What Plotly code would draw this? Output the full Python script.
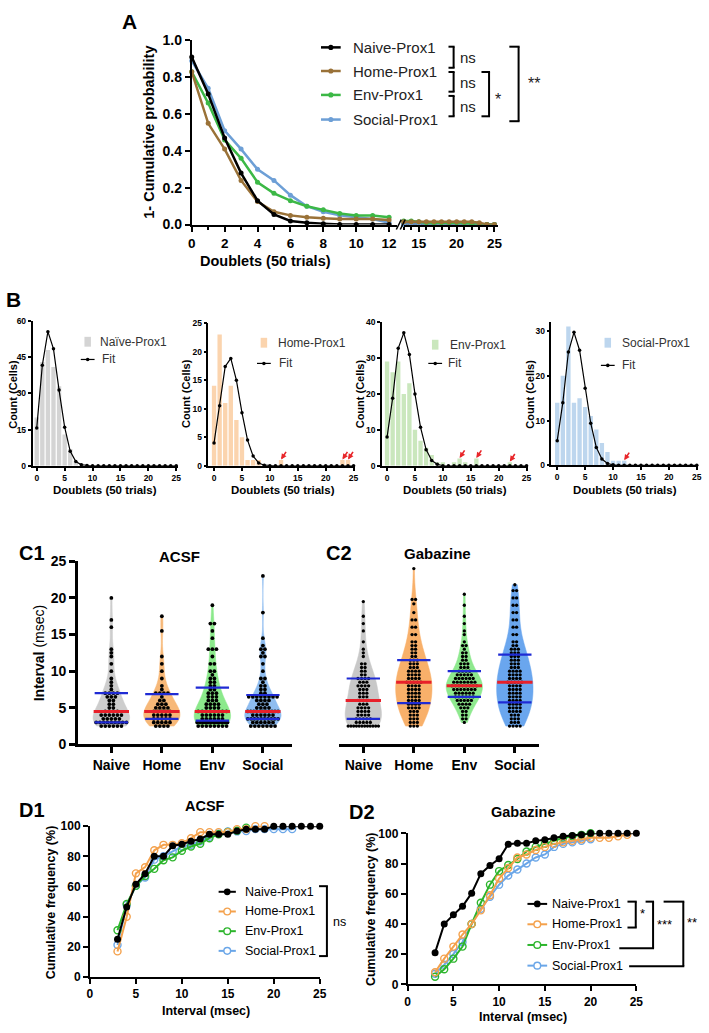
import numpy as np
import plotly.graph_objects as go

W, H = 709, 1033
FONT = "Arial, 'Liberation Sans', Helvetica, sans-serif"


def fx(px):
    return px / W


def fy(py):
    return 1 - py / H


# ====================== DATA ======================
legend_names = ["Naive-Prox1", "Home-Prox1", "Env-Prox1", "Social-Prox1"]
cat_labels = ["Naive", "Home", "Env", "Social"]
cat_pos = [1, 2, 3, 4]

# ---- Panel A : 1 - cumulative probability ----
a_x_left = [0, 1, 2, 3, 4, 5, 6, 7, 8, 9, 10, 11, 12]
a_x_right = [13, 14, 15, 16, 17, 18, 19, 20, 21, 22, 23, 24, 25]
a_naive_left = [0.91, 0.71, 0.47, 0.28, 0.13, 0.055, 0.02, 0.01, 0.005, 0.0, 0.0, 0.0, 0.0]
a_home_left = [0.83, 0.55, 0.41, 0.24, 0.125, 0.07, 0.05, 0.04, 0.035, 0.03, 0.03, 0.03, 0.025]
a_env_left = [0.83, 0.66, 0.46, 0.36, 0.23, 0.17, 0.13, 0.10, 0.08, 0.06, 0.05, 0.05, 0.04]
a_social_left = [0.89, 0.74, 0.51, 0.41, 0.30, 0.24, 0.16, 0.10, 0.07, 0.05, 0.04, 0.03, 0.01]
a_naive_right = [0, 0, 0, 0, 0, 0, 0, 0, 0, 0, 0, 0, 0]
a_home_right = [0.015, 0.015, 0.015, 0.015, 0.015, 0.015, 0.015, 0.015, 0.015, 0.015, 0.01, 0.0, 0.0]
a_env_right = [0.02, 0.02, 0.015, 0.01, 0.01, 0.01, 0.01, 0.01, 0.01, 0.0, 0.0, 0.0, 0.0]
a_social_right = [0, 0, 0, 0, 0, 0, 0, 0, 0, 0, 0, 0, 0]
a_ticks_left = [0, 2, 4, 6, 8, 10, 12]
a_ticks_right = [15, 20, 25]
a_yticks = [0, 0.2, 0.4, 0.6, 0.8, 1.0]

# ---- Panel B : histograms of doublets with fits ----
b_doublets = [0, 1, 2, 3, 4, 5, 6, 7, 8, 9, 10, 11, 12, 13, 14, 15, 16, 17, 18, 19, 20, 21, 22, 23, 24, 25]
b_naive_counts = [20, 43, 48, 41, 33, 13, 7, 2, 1, 0, 0, 0, 0, 0, 0, 0, 0, 0, 0, 0, 0, 0, 0, 0, 0, 0]
b_home_counts = [14, 23, 11, 14, 8, 5, 1, 1, 1, 0, 0, 0, 1, 0, 0, 0, 0, 0, 0, 0, 0, 0, 0, 1, 1, 0]
b_env_counts = [29, 26, 29, 20, 23, 10, 7, 5, 3, 1, 1, 0, 1, 2, 1, 0, 2, 0, 0, 0, 0, 0, 1, 0, 0, 0]
b_social_counts = [14, 20, 31, 14, 15, 13, 11, 8, 5, 3, 1, 1, 1, 0, 0, 0, 0, 0, 0, 0, 0, 0, 0, 0, 0, 0]
b_naive_fit = [15.7, 41.7, 55.6, 48.5, 31.4, 16.0, 6.0, 1.8, 0.4, 0.1, 0, 0, 0, 0, 0, 0, 0, 0, 0, 0, 0, 0, 0, 0, 0, 0]
b_home_fit = [4.0, 10.5, 17.4, 18.8, 15.0, 9.3, 4.5, 1.7, 0.5, 0.1, 0, 0, 0, 0, 0, 0, 0, 0, 0, 0, 0, 0, 0, 0, 0, 0]
b_env_fit = [8.0, 18.8, 32.7, 37.0, 31.0, 20.0, 10.7, 4.5, 1.5, 0.4, 0, 0, 0, 0, 0, 0, 0, 0, 0, 0, 0, 0, 0, 0, 0, 0]
b_social_fit = [5.5, 14.0, 25.3, 29.7, 25.7, 17.2, 9.4, 4.0, 1.4, 0.4, 0.1, 0, 0, 0, 0, 0, 0, 0, 0, 0, 0, 0, 0, 0, 0, 0]
b_home_arrows = [12, 23, 24]
b_env_arrows = [13, 16, 22]
b_social_arrows = [12]
b_naive_yticks = [0, 15, 30, 45, 60]
b_home_yticks = [0, 5, 10, 15, 20, 25]
b_env_yticks = [0, 10, 20, 30, 40]
b_social_yticks = [0, 10, 20, 30]
b_xticks = [0, 5, 10, 15, 20, 25]

# ---- Panel C : intervals (value rows and number of cells per row) ----
c1_naive_vals = [2.5, 3, 3.5, 4, 4.5, 5, 5.5, 6, 6.5, 7, 7.5, 8, 8.5, 9, 10, 11, 12, 12.5, 13, 16, 17, 20]
c1_naive_cnts = [6, 9, 5, 6, 4, 2, 2, 2, 3, 4, 1, 1, 1, 1, 1, 1, 1, 1, 1, 1, 1, 1]
c1_home_vals = [2.5, 3, 3.5, 4, 4.5, 5, 5.5, 6, 6.5, 7, 7.5, 8, 9, 10, 11, 12, 15.5, 17.5]
c1_home_cnts = [4, 5, 5, 5, 5, 4, 3, 2, 1, 4, 1, 1, 1, 1, 1, 1, 1, 1]
c1_env_vals = [2.5, 3, 3.5, 4, 4.5, 5, 5.5, 6, 6.5, 7, 7.5, 8, 8.5, 9, 9.5, 10, 11, 12, 13, 14.5, 15.5, 16.5, 19]
c1_env_cnts = [8, 12, 6, 6, 8, 4, 4, 3, 3, 3, 2, 2, 2, 2, 1, 2, 2, 1, 3, 1, 1, 2, 1]
c1_social_vals = [2.5, 3, 3.5, 4, 4.5, 5, 5.5, 6, 6.5, 7, 7.5, 8, 8.5, 9, 10, 11, 12, 12.5, 13, 13.5, 14.5, 18, 23]
c1_social_cnts = [7, 6, 10, 6, 11, 4, 3, 4, 8, 2, 2, 2, 1, 2, 1, 1, 2, 1, 2, 1, 1, 1, 1]

c2_naive_vals = [2.5, 3, 3.5, 4, 4.5, 5, 5.5, 6, 6.5, 7, 7.5, 8, 8.5, 9, 9.5, 10, 10.5, 11, 12, 12.5, 13, 14, 15.5, 16.5, 17.5, 19.5]
c2_naive_cnts = [12, 5, 5, 4, 4, 4, 3, 4, 3, 3, 3, 4, 3, 4, 2, 2, 2, 2, 1, 1, 1, 1, 1, 1, 1, 1]
c2_home_vals = [2.5, 3, 3.5, 4, 4.5, 5, 5.5, 6, 6.5, 7, 7.5, 8, 8.5, 9, 9.5, 10, 10.5, 11, 11.5, 12, 12.5, 13, 13.5, 14, 15, 16, 17, 18, 19.2, 19.8, 24]
c2_home_cnts = [3, 3, 3, 3, 3, 4, 4, 4, 4, 4, 4, 4, 5, 4, 4, 4, 3, 3, 3, 2, 2, 2, 2, 2, 2, 2, 2, 1, 1, 2, 1]
c2_env_vals = [3, 3.5, 4, 4.5, 5, 5.5, 6, 6.5, 7, 7.5, 8, 8.5, 9, 9.5, 10, 10.5, 11, 11.5, 12, 12.5, 13, 13.5, 14, 15, 15.5, 16.5, 17.5, 19, 20.5]
c2_env_cnts = [1, 2, 2, 2, 3, 4, 5, 6, 6, 7, 8, 7, 6, 5, 4, 3, 3, 2, 2, 2, 1, 2, 1, 1, 1, 1, 1, 1, 1]
c2_social_vals = [2.5, 3, 3.5, 4, 4.5, 5, 5.5, 6, 6.5, 7, 7.5, 8, 8.5, 9, 9.5, 10, 10.5, 11, 11.5, 12, 12.5, 13, 13.5, 14, 15, 16, 17, 18, 19, 20, 21, 21.8]
c2_social_cnts = [4, 3, 3, 3, 4, 4, 4, 4, 4, 4, 4, 4, 5, 4, 4, 4, 3, 3, 3, 3, 3, 3, 2, 2, 2, 2, 2, 2, 2, 2, 2, 1]
c_yticks = [0, 5, 10, 15, 20, 25]

# ---- Panel D : cumulative frequency (%) ----
d1_naive_x = [3, 4, 5, 6, 7, 8, 9, 10, 11, 12, 13, 14, 15, 16, 17, 18, 19, 20, 21, 22, 23, 24, 25]
d1_naive_y = [25, 46.5, 61.5, 68.5, 80, 80, 87, 88, 90, 91.5, 94.6, 94.6, 94.6, 96.7, 98, 98, 98, 100, 100, 100, 100, 100, 100]
d1_home_x = [3, 4, 5, 6, 7, 8, 9, 10, 11, 12, 13, 14, 15, 16, 17, 18, 19]
d1_home_y = [17, 40, 68.7, 72.8, 84, 87.6, 87.6, 88.7, 92, 96, 96, 96, 96, 98, 98, 100, 100]
d1_env_x = [3, 4, 5, 6, 7, 8, 9, 10, 11, 12, 13, 14, 15, 16, 17]
d1_env_y = [31, 48.5, 60.4, 67, 71.7, 77.4, 79.3, 83.7, 86.5, 88.3, 92, 94.6, 96.2, 97, 99]
d1_social_x = [3, 4, 5, 6, 7, 8, 9, 10, 11, 12, 13, 14, 15, 16, 17, 18, 19, 20, 21, 22]
d1_social_y = [21.3, 47.8, 60.5, 66, 77.8, 80, 83.2, 86.5, 87.6, 90, 93, 95, 96.5, 96.5, 96.7, 98, 98, 98, 98, 98]

d2_naive_x = [3, 4, 5, 6, 7, 8, 9, 10, 11, 12, 13, 14, 15, 16, 17, 18, 19, 20, 21, 22, 23, 24, 25]
d2_naive_y = [21, 40, 46, 51.7, 60.4, 73.3, 78.7, 83.2, 92.8, 93.5, 93.5, 95, 95.7, 97, 98, 98.5, 99, 100, 100, 100, 100, 100, 100]
d2_home_x = [3, 4, 5, 6, 7, 8, 9, 10, 11, 12, 13, 14, 15, 16, 17, 18, 19, 20, 21, 22, 23, 24]
d2_home_y = [8, 17, 25, 33, 40, 49, 59, 70, 77, 84, 86, 89, 91, 93, 94, 95, 96, 97, 97, 97, 98, 99]
d2_env_x = [3, 4, 5, 6, 7, 8, 9, 10, 11, 12, 13, 14, 15, 16, 17, 18, 19, 20]
d2_env_y = [5, 10, 17, 25, 40, 54, 66, 75, 79, 83, 88, 91, 93, 95, 97, 98, 99, 100]
d2_social_x = [3, 4, 5, 6, 7, 8, 9, 10, 11, 12, 13, 14, 15, 16, 17, 18, 19, 20]
d2_social_y = [7, 13, 20, 28, 40, 50, 58, 66, 72, 76, 80, 84, 86, 91, 93, 94, 95, 96]
d_xticks = [0, 5, 10, 15, 20, 25]
d_yticks = [0, 20, 40, 60, 80, 100]

# ====================== STYLE ======================
A_COLORS = ["#000000", "#9a7238", "#3cb846", "#6d9fd6"]
B_COLORS = ["#d4d4d4", "#fbd4ae", "#cae7bd", "#bdd6ee"]
C1_COLORS = ["#cdcdcd", "#f7b878", "#8be98b", "#8fbdf0"]
C2_COLORS = ["#c8c8c8", "#f8b06a", "#8ee98e", "#6aa6ee"]
D_COLORS = ["#000000", "#f4a14c", "#2cb52c", "#6aa6e8"]

fig = go.Figure()
shapes = []
annotations = []


def line_px(x0, y0, x1, y1, color="black", width=2):
    shapes.append(dict(type="line", xref="paper", yref="paper", x0=fx(x0), y0=fy(y0),
                       x1=fx(x1), y1=fy(y1), line=dict(color=color, width=width)))


def circle_px(cx, cy, r, color, fill=True, width=1.5):
    shapes.append(dict(type="circle", xref="paper", yref="paper",
                       x0=fx(cx - r), x1=fx(cx + r), y0=fy(cy + r), y1=fy(cy - r),
                       line=dict(color=color, width=(0 if fill else width)),
                       fillcolor=(color if fill else "white")))


def rect_px(x0, y0, x1, y1, color):
    shapes.append(dict(type="rect", xref="paper", yref="paper", x0=fx(x0), x1=fx(x1),
                       y0=fy(y1), y1=fy(y0), line=dict(width=0), fillcolor=color))


def text_px(x, y, s, size, weight="bold", xanchor="center", yanchor="middle", angle=0, color="black"):
    annotations.append(dict(x=fx(x), y=fy(y), xref="paper", yref="paper", text=s, showarrow=False,
                            font=dict(family=FONT, size=size, color=color, weight=weight),
                            xanchor=xanchor, yanchor=yanchor, textangle=angle, borderpad=0))


def axis(dom_px, rng, horizontal, lw, fs, ticklen=5, **kw):
    if horizontal:
        domain = [fx(dom_px[0]), fx(dom_px[1])]
    else:
        domain = [fy(dom_px[1]), fy(dom_px[0])]
    d = dict(domain=domain, range=list(rng), showline=True, linecolor="black", linewidth=lw,
             ticks="outside", ticklen=ticklen, tickwidth=lw, tickcolor="black", showgrid=False,
             zeroline=False, fixedrange=True, type="linear",
             tickfont=dict(family=FONT, size=fs, color="black", weight="bold"))
    d.update(kw)
    return d


layout = {}

# ====================== PANEL A ======================
a_left = [a_naive_left, a_home_left, a_env_left, a_social_left]
a_right = [a_naive_right, a_home_right, a_env_right, a_social_right]
for i in [3, 2, 1, 0]:
    fig.add_trace(go.Scatter(x=a_x_left, y=a_left[i], mode="lines+markers", xaxis="x", yaxis="y",
                             line=dict(color=A_COLORS[i], width=2.5), marker=dict(size=5, color=A_COLORS[i]),
                             cliponaxis=False, showlegend=False))
for i in [0, 3, 2, 1]:
    fig.add_trace(go.Scatter(x=a_x_right, y=a_right[i], mode="lines+markers", xaxis="x2", yaxis="y",
                             line=dict(color=A_COLORS[i], width=2.5), marker=dict(size=5, color=A_COLORS[i]),
                             cliponaxis=False, showlegend=False))

layout["xaxis"] = axis((190.7, 399.5), (0, 12.5), True, 2, 13.5, ticklen=5, anchor="y",
                       tickmode="array", tickvals=a_ticks_left,
                       minor=dict(tickmode="linear", tick0=0, dtick=1, ticks="outside", ticklen=3,
                                  tickwidth=1.5, tickcolor="black"))
layout["xaxis2"] = axis((406, 502), (13, 25.5), True, 2, 13.5, ticklen=5, anchor="y",
                        tickmode="array", tickvals=a_ticks_right,
                        minor=dict(tickmode="linear", tick0=0, dtick=1, ticks="outside", ticklen=3,
                                   tickwidth=1.5, tickcolor="black"))
layout["yaxis"] = axis((33, 220), (0, 1.0), False, 2, 14, ticklen=5, anchor="x",
                       tickmode="array", tickvals=a_yticks, tickformat=".1f")
# axis break marks
line_px(398.5, 225, 403.5, 215, width=1.5)
line_px(402.5, 225, 407.5, 215, width=1.5)

text_px(127, 14, "A", 21)
text_px(147, 126, "1- Cumulative probability", 14.5, angle=-90)
text_px(266, 257, "Doublets (50 trials)", 14.5)

a_leg_y = [40, 64, 88.3, 113.3]
for i in range(4):
    line_px(322, a_leg_y[i], 342, a_leg_y[i], color=A_COLORS[i], width=2.5)
    circle_px(332, a_leg_y[i], 2.6, A_COLORS[i])
    text_px(353, a_leg_y[i], legend_names[i], 15, weight="normal", xanchor="left", color="#222")


def bracket(xv, y0, y1, xl_top, xl_bot, width=2):
    line_px(xv, y0, xv, y1, width=width)
    line_px(xl_top, y0, xv + width / 2, y0, width=width)
    line_px(xl_bot, y1, xv + width / 2, y1, width=width)


bracket(456.7, 39.3, 60.7, 451.5, 451.5)
text_px(462, 50, "ns", 15, weight="normal", xanchor="left", color="#222")
bracket(456.7, 65, 85, 451.5, 451.5)
text_px(462, 75.5, "ns", 15, weight="normal", xanchor="left", color="#222")
bracket(456.7, 89.3, 110, 451.5, 451.5)
text_px(462, 100.5, "ns", 15, weight="normal", xanchor="left", color="#222")
bracket(492.7, 65, 110, 485, 485)
text_px(502, 93, "*", 16, weight="normal", color="#222")
bracket(522.7, 39.3, 115, 513.3, 513.3)
text_px(538, 77, "**", 16, weight="normal", color="#222")

# ====================== PANEL B ======================
b_specs = [
    dict(name="Naïve-Prox1", counts=b_naive_counts, fit=b_naive_fit, col=B_COLORS[0], xdom=(29, 176.7),
         xr=(-0.75, 25.3), ydom=(318, 465), yr=(0, 60), yt=b_naive_yticks, arrows=[],
         leg=(85, 339, 97, 357, 99), ytitle_x=9, xtitle_x=103),
    dict(name="Home-Prox1", counts=b_home_counts, fit=b_home_fit, col=B_COLORS[1], xdom=(207.7, 356.8),
         xr=(-1.0, 25.3), ydom=(320, 465), yr=(0, 25), yt=b_home_yticks, arrows=b_home_arrows,
         leg=(264, 340, 277, 361, 278), ytitle_x=185, xtitle_x=283),
    dict(name="Env-Prox1", counts=b_env_counts, fit=b_env_fit, col=B_COLORS[2], xdom=(384, 532.5),
         xr=(-0.9, 25.3), ydom=(319, 465), yr=(0, 40), yt=b_env_yticks, arrows=b_env_arrows,
         leg=(438, 342, 452, 361, 450), ytitle_x=362, xtitle_x=458),
    dict(name="Social-Prox1", counts=b_social_counts, fit=b_social_fit, col=B_COLORS[3], xdom=(556, 705.4),
         xr=(-1.05, 25.3), ydom=(319, 464.5), yr=(0, 32), yt=b_social_yticks, arrows=b_social_arrows,
         leg=(613.3, 340, 627, 363, 627), ytitle_x=534, xtitle_x=631),
]
for k, s in enumerate(b_specs):
    xa = "x%d" % (3 + k)
    ya = "y%d" % (2 + k)
    fig.add_trace(go.Bar(x=b_doublets, y=s["counts"], width=0.78, marker=dict(color=s["col"], line=dict(width=0)),
                         xaxis=xa, yaxis=ya, showlegend=False))
    fig.add_trace(go.Scatter(x=b_doublets, y=s["fit"], mode="lines+markers", xaxis=xa, yaxis=ya,
                             line=dict(color="black", width=1.2), marker=dict(size=3.5, color="black"),
                             cliponaxis=False, showlegend=False))
    layout["xaxis%d" % (3 + k)] = axis(s["xdom"], s["xr"], True, 1.5, 8.5, ticklen=3, anchor=ya,
                                       tickmode="array", tickvals=b_xticks)
    layout["yaxis%d" % (2 + k)] = axis(s["ydom"], s["yr"], False, 1.5, 8.5, ticklen=3, anchor=xa,
                                       tickmode="array", tickvals=s["yt"])
    for av in s["arrows"]:
        annotations.append(dict(x=av, y=s["counts"][av] + 0.12 * (s["yr"][1] / 25), xref=xa, yref=ya,
                                text="", showarrow=True, arrowhead=2, arrowsize=0.7, arrowwidth=1.6,
                                arrowcolor="#e8262a", ax=6, ay=-9))
    lx, ly, tx, fly, ftx = s["leg"]
    rect_px(lx - 3.3, ly - 5, lx + 3.3, ly + 5, s["col"])
    text_px(tx, ly, s["name"], 12, weight="normal", xanchor="left", color="#333")
    line_px(lx - 7, fly, lx + 7, fly, width=1.2)
    circle_px(lx, fly, 1.8, "black")
    text_px(ftx, fly, "Fit", 12, weight="normal", xanchor="left", color="#333")
    text_px(s["ytitle_x"], 392, "Count (Cells)", 11, angle=-90)
    text_px(s["xtitle_x"], 490, "Doublets (50 trials)", 11.5)

text_px(10, 296, "B", 21)


# ====================== PANEL C ======================
def swarm(vals, cnts, pos, step, maxhalf):
    xs, ys = [], []
    for v, n in zip(vals, cnts):
        s = step if n < 2 else min(step, 2 * maxhalf / (n - 1))
        for k in range(n):
            xs.append(pos + (k - (n - 1) / 2) * s)
            ys.append(v)
    return xs, ys


c1_sets = [(c1_naive_vals, c1_naive_cnts), (c1_home_vals, c1_home_cnts),
           (c1_env_vals, c1_env_cnts), (c1_social_vals, c1_social_cnts)]
c2_sets = [(c2_naive_vals, c2_naive_cnts), (c2_home_vals, c2_home_cnts),
           (c2_env_vals, c2_env_cnts), (c2_social_vals, c2_social_cnts)]

for sets, cols, xa, ya, msize, step in [(c1_sets, C1_COLORS, "x7", "y6", 3.8, 0.08),
                                        (c2_sets, C2_COLORS, "x8", "y7", 3.3, 0.07)]:
    for i, (vals, cnts) in enumerate(sets):
        yv = np.repeat(np.array(vals, dtype=float), cnts)
        fig.add_trace(go.Violin(x=np.full(len(yv), cat_pos[i]), y=yv, xaxis=xa, yaxis=ya, width=0.72,
                                scalemode="width", spanmode="hard", points=False, fillcolor=cols[i],
                                line=dict(color=cols[i], width=0.5), opacity=1, showlegend=False,
                                box=dict(visible=False), meanline=dict(visible=False), hoverinfo="skip"))
    for i, (vals, cnts) in enumerate(sets):
        sx, sy = swarm(vals, cnts, cat_pos[i], step, 0.3)
        fig.add_trace(go.Scatter(x=sx, y=sy, mode="markers", xaxis=xa, yaxis=ya,
                                 marker=dict(size=msize, color="black"), showlegend=False, cliponaxis=False))
    for i, (vals, cnts) in enumerate(sets):
        yv = np.repeat(np.array(vals, dtype=float), cnts)
        q1, med, q3 = np.percentile(yv, [25, 50, 75])
        p = cat_pos[i]
        fig.add_trace(go.Scatter(x=[p - 0.33, p + 0.33, None, p - 0.33, p + 0.33], y=[q1, q1, None, q3, q3],
                                 mode="lines", line=dict(color="#1f2bd4", width=2.2), xaxis=xa, yaxis=ya,
                                 showlegend=False))
        fig.add_trace(go.Scatter(x=[p - 0.35, p + 0.35], y=[med, med], mode="lines",
                                 line=dict(color="#e8202a", width=3), xaxis=xa, yaxis=ya, showlegend=False))

layout["xaxis7"] = axis((75, 293), (0.337, 4.585), True, 2.5, 14, ticklen=6, anchor="y6",
                        tickmode="array", tickvals=cat_pos, ticktext=cat_labels)
layout["yaxis6"] = axis((562, 748), (0, 25), False, 2.5, 14, ticklen=6, anchor="x7",
                        tickmode="array", tickvals=c_yticks)
layout["xaxis8"] = axis((340, 543), (0.513, 4.47), True, 2.5, 14, ticklen=6, anchor="y7",
                        tickmode="array", tickvals=cat_pos, ticktext=cat_labels)
layout["yaxis7"] = dict(domain=[fy(748), fy(562)], range=[0, 25], visible=False, fixedrange=True)

text_px(28, 554, "C1", 20)
text_px(340, 554, "C2", 20)
text_px(178, 557, "ACSF", 15)
text_px(440, 554, "Gabazine", 15)
text_px(35, 655, "<b>Interval</b> (msec)", 14, weight="normal", angle=-90)

# ====================== PANEL D ======================
d_sets = [
    [(d1_naive_x, d1_naive_y), (d1_home_x, d1_home_y), (d1_env_x, d1_env_y), (d1_social_x, d1_social_y)],
    [(d2_naive_x, d2_naive_y), (d2_home_x, d2_home_y), (d2_env_x, d2_env_y), (d2_social_x, d2_social_y)],
]
for k, (xa, ya) in enumerate([("x9", "y8"), ("x10", "y9")]):
    for i in [3, 2, 1, 0]:
        xs, ys = d_sets[k][i]
        if i == 0:
            mk = dict(size=7, color="black", symbol="circle")
        else:
            mk = dict(size=7, color=D_COLORS[i], symbol="circle-open", line=dict(width=1.4, color=D_COLORS[i]))
        fig.add_trace(go.Scatter(x=xs, y=ys, mode="lines+markers", xaxis=xa, yaxis=ya,
                                 line=dict(color=D_COLORS[i], width=2), marker=mk, cliponaxis=False,
                                 showlegend=False))

layout["xaxis9"] = axis((87.3, 320.7), (0, 25), True, 1.8, 12, ticklen=5, anchor="y8",
                        tickmode="array", tickvals=d_xticks)
layout["yaxis8"] = axis((831, 984.3), (0, 100), False, 1.8, 12, ticklen=5, anchor="x9",
                        tickmode="array", tickvals=d_yticks)
layout["xaxis10"] = axis((410, 642.3), (0, 25), True, 1.8, 12, ticklen=5, anchor="y9",
                         tickmode="array", tickvals=d_xticks)
layout["yaxis9"] = axis((838.3, 991.7), (0, 100), False, 1.8, 12, ticklen=5, anchor="x10",
                        tickmode="array", tickvals=d_yticks)

text_px(28, 815, "D1", 20)
text_px(364, 817, "D2", 20)
text_px(204, 811, "ACSF", 14.5)
text_px(527, 817, "Gabazine", 14.5)
text_px(48, 908, "Cumulative frequency (%)", 12.5, angle=-90)
text_px(373, 915, "Cumulative frequency (%)", 12.5, angle=-90)
text_px(205, 1019, "Interval (msec)", 12.5)
text_px(527, 1025, "Interval (msec)", 12.5)


def d_legend(rows, lx0, lx1, tx):
    for i in range(4):
        line_px(lx0, rows[i], lx1, rows[i], color=D_COLORS[i], width=2)
        circle_px((lx0 + lx1) / 2, rows[i], 3.4, D_COLORS[i], fill=(i == 0), width=1.4)
        text_px(tx, rows[i], legend_names[i], 12.5, weight="normal", xanchor="left")


d_legend([897.7, 917.7, 937.7, 957.7], 218, 235.5, 244)
d_legend([910, 930.7, 951.7, 972.7], 531.7, 551.7, 556)

bracket(328, 892, 963, 320, 320)
text_px(333, 928, "ns", 12.5, weight="normal", xanchor="left")

bracket(641.7, 907.7, 934, 633.3, 633.3)
text_px(645, 920, "*", 13, weight="normal", xanchor="left")
bracket(659.3, 907.7, 955, 651.7, 625)
text_px(662, 931, "***", 13, weight="normal", xanchor="left")
bracket(690, 907.7, 973.3, 670, 635)
text_px(693, 929, "**", 13, weight="normal", xanchor="left")

fig.update_layout(
    width=W, height=H, autosize=False,
    margin=dict(l=0, r=0, t=0, b=0, pad=0),
    paper_bgcolor="white", plot_bgcolor="white",
    showlegend=False, violinmode="overlay", barmode="overlay",
    font=dict(family=FONT, color="black"),
    shapes=shapes, annotations=annotations,
    **layout,
)

fig.write_html("out.html")
